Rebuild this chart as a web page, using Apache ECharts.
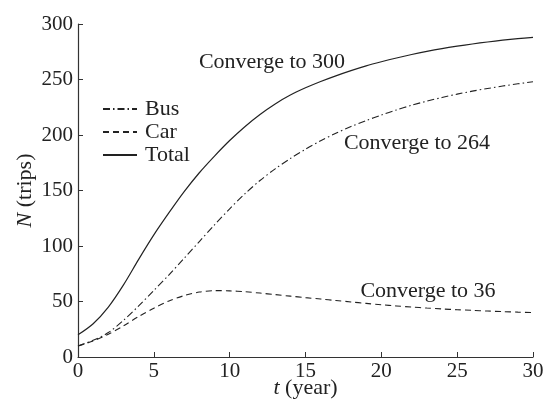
<!DOCTYPE html>
<html>
  <head>
    <meta charset="utf-8">
    <title>Trips</title>
    <script src="https://cdn.jsdelivr.net/npm/echarts@6/dist/echarts.min.js"></script>
  </head>
  <body style="margin:0;background:#fff;">
    <div id="main" style="width:548px;height:407px;"></div>
    <script type="text/javascript">
      // values, t = 0..30 years
      var years = [0,1,2,3,4,5,6,7,8,9,10,11,12,13,14,15,16,17,18,19,20,21,22,23,24,25,26,27,28,29,30];
      var busTrips = [10,15,22,33,46,60,74,89,104,119,133.5,147,159,169.5,178.8,187.2,194.8,201.6,207.6,213,218,222.6,226.8,230.5,233.8,236.8,239.5,241.9,244.1,246.1,248];
      var carTrips = [10,14.5,20.5,28,36.5,44,50.5,55.3,58.5,59.8,59.6,58.8,57.6,56.2,54.8,53.5,52.2,50.9,49.6,48.3,47.1,46,45,44.1,43.3,42.6,42,41.4,40.9,40.4,40];
      var totalTrips = [20,30,45,65,88,110,130,149,166,181,195,207.5,218.5,228,236,242.5,248.2,253.3,258,262.3,266,269.4,272.5,275.3,277.8,280,282,283.8,285.4,286.8,288];
      var yTicks = [0, 50, 100, 150, 200, 250, 300];
      var xTicks = [0, 5, 10, 15, 20, 25, 30];

      var serif = 'Liberation Serif';
      var ink = '#222';

      function pairs(vals) {
        return years.map(function (t, i) { return [t, vals[i]]; });
      }

      var myChart = echarts.init(document.getElementById('main'));

      myChart.setOption({
        animation: false,
        backgroundColor: '#fff',
        grid: { left: 78, right: 15, top: 24, bottom: 50, containLabel: false, outerBoundsMode: 'none' },
        legend: {
          orient: 'vertical',
          left: 102,
          top: 98,
          padding: 0,
          itemWidth: 34,
          itemHeight: 14,
          itemGap: 1,
          itemStyle: { opacity: 0 },
          textStyle: { fontFamily: serif, fontSize: 22, color: ink, padding: [0, 0, 0, 3] },
          data: ['Bus', 'Car', 'Total']
        },
        xAxis: {
          type: 'value',
          min: xTicks[0],
          max: xTicks[xTicks.length - 1],
          interval: 5,
          name: '{i|t} (year)',
          nameLocation: 'middle',
          nameGap: 20,
          nameMoveOverlap: false,
          nameTextStyle: {
            fontFamily: serif, fontSize: 22, color: ink,
            rich: { i: { fontFamily: serif, fontSize: 22, fontStyle: 'italic', color: ink } }
          },
          splitLine: { show: false },
          axisLine: { lineStyle: { color: '#333', width: 1.2 } },
          axisTick: { inside: true, length: 5, lineStyle: { color: '#333' } },
          axisLabel: { fontFamily: serif, fontSize: 21, color: ink, margin: 4 }
        },
        yAxis: {
          type: 'value',
          min: yTicks[0],
          max: yTicks[yTicks.length - 1],
          interval: 50,
          name: '{i|N} (trips)',
          nameLocation: 'middle',
          nameGap: 42,
          nameMoveOverlap: false,
          nameTextStyle: {
            fontFamily: serif, fontSize: 22, color: ink,
            rich: { i: { fontFamily: serif, fontSize: 22, fontStyle: 'italic', color: ink } }
          },
          splitLine: { show: false },
          axisLine: { show: true, lineStyle: { color: '#333', width: 1.2 } },
          axisTick: { show: true, inside: true, length: 5, lineStyle: { color: '#333' } },
          axisLabel: { fontFamily: serif, fontSize: 21, color: ink, margin: 5 }
        },
        series: [
          {
            name: 'Bus', type: 'line', smooth: 0.3, symbol: 'none',
            lineStyle: { color: ink, width: 1.1, type: [7, 3, 1.5, 3] },
            itemStyle: { color: ink },
            data: pairs(busTrips)
          },
          {
            name: 'Car', type: 'line', smooth: 0.3, symbol: 'none',
            lineStyle: { color: ink, width: 1.1, type: [6, 4] },
            itemStyle: { color: ink },
            data: pairs(carTrips)
          },
          {
            name: 'Total', type: 'line', smooth: 0.3, symbol: 'none',
            lineStyle: { color: ink, width: 1.2, type: 'solid' },
            itemStyle: { color: ink },
            data: pairs(totalTrips)
          }
        ],
        graphic: [
          { type: 'text', x: 272, y: 62, style: { text: 'Converge to 300', font: '22px ' + serif, fill: ink, align: 'center', verticalAlign: 'middle' } },
          { type: 'text', x: 417, y: 143, style: { text: 'Converge to 264', font: '22px ' + serif, fill: ink, align: 'center', verticalAlign: 'middle' } },
          { type: 'text', x: 428, y: 291, style: { text: 'Converge to 36', font: '22px ' + serif, fill: ink, align: 'center', verticalAlign: 'middle' } }
        ]
      });
    </script>
  </body>
</html>
